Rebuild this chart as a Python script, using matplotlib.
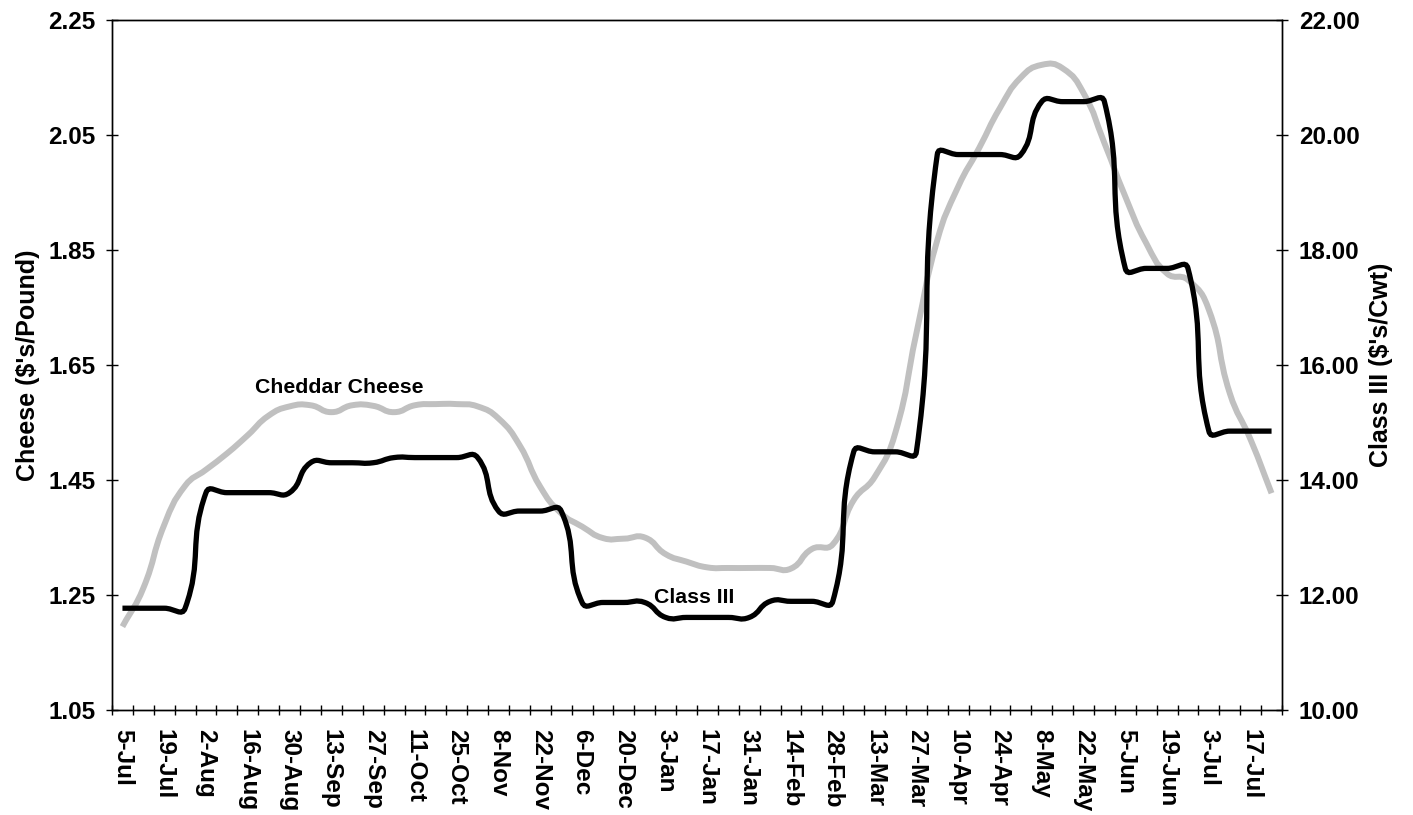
import numpy as np
import matplotlib.pyplot as plt
from matplotlib.path import Path
from matplotlib.patches import PathPatch
from matplotlib.ticker import FormatStrFormatter

plt.rcParams['font.family'] = ['Liberation Sans', 'DejaVu Sans']
plt.rcParams['font.weight'] = 'bold'

# weekly categories
weeks = ["5-Jul", "12-Jul", "19-Jul", "26-Jul", "2-Aug", "9-Aug", "16-Aug", "23-Aug",
         "30-Aug", "6-Sep", "13-Sep", "20-Sep", "27-Sep", "4-Oct", "11-Oct", "18-Oct",
         "25-Oct", "1-Nov", "8-Nov", "15-Nov", "22-Nov", "29-Nov", "6-Dec", "13-Dec",
         "20-Dec", "27-Dec", "3-Jan", "10-Jan", "17-Jan", "24-Jan", "31-Jan", "7-Feb",
         "14-Feb", "21-Feb", "28-Feb", "6-Mar", "13-Mar", "20-Mar", "27-Mar", "3-Apr",
         "10-Apr", "17-Apr", "24-Apr", "1-May", "8-May", "15-May", "22-May", "29-May",
         "5-Jun", "12-Jun", "19-Jun", "26-Jun", "3-Jul", "10-Jul", "17-Jul", "24-Jul"]

# cheddar cheese, $/lb (left axis)
cheddar = [1.195, 1.262, 1.372, 1.440, 1.468, 1.496, 1.528, 1.562,
           1.578, 1.580, 1.568, 1.580, 1.579, 1.568, 1.580, 1.582,
           1.582, 1.578, 1.557, 1.511, 1.438, 1.392, 1.369, 1.349,
           1.348, 1.350, 1.321, 1.308, 1.298, 1.297, 1.297, 1.297,
           1.296, 1.330, 1.338, 1.415, 1.455, 1.533, 1.705, 1.867,
           1.960, 2.027, 2.097, 2.150, 2.172, 2.166, 2.123, 2.036,
           1.943, 1.862, 1.809, 1.798, 1.746, 1.601, 1.520, 1.427]

# class III, $/cwt (right axis)
class3 = [11.77, 11.77, 11.77, 11.77, 13.78, 13.78, 13.78, 13.78,
          13.78, 14.30, 14.30, 14.30, 14.30, 14.39, 14.39, 14.39,
          14.39, 14.39, 13.46, 13.46, 13.46, 13.46, 11.87, 11.87,
          11.87, 11.87, 11.61, 11.61, 11.61, 11.61, 11.61, 11.89,
          11.89, 11.89, 11.89, 14.49, 14.49, 14.49, 14.49, 19.66,
          19.66, 19.66, 19.66, 19.66, 20.58, 20.58, 20.58, 20.58,
          17.68, 17.68, 17.68, 17.68, 14.85, 14.85, 14.85, 14.85]

leftTicks = [1.05, 1.25, 1.45, 1.65, 1.85, 2.05, 2.25]
rightTicks = [10, 12, 14, 16, 18, 20, 22]


def smoothPath(axis, xs, ys, tension=0.5):
    """Bezier path through the points, built like Excel's smoothed line."""
    pts = axis.transData.transform(np.column_stack([xs, ys]))
    n = len(pts)
    verts = [pts[0]]
    codes = [Path.MOVETO]
    for k in range(n - 1):
        p0 = pts[max(k - 1, 0)]
        p1 = pts[k]
        p2 = pts[k + 1]
        p3 = pts[min(k + 2, n - 1)]
        d01 = np.hypot(*(p1 - p0))
        d12 = np.hypot(*(p2 - p1))
        d23 = np.hypot(*(p3 - p2))
        c1 = p1 + tension * d12 / (d01 + d12) * (p2 - p0)
        c2 = p2 - tension * d12 / (d12 + d23) * (p3 - p1)
        verts += [c1, c2, p2]
        codes += [Path.CURVE4] * 3
    verts = axis.transData.inverted().transform(np.array(verts))
    return Path(verts, codes)


fig = plt.figure(figsize=(14.13, 8.15), dpi=100)
ax = fig.add_axes([112 / 1413, 105 / 815, 1170 / 1413, 690 / 815])
ax2 = ax.twinx()

x = np.arange(len(weeks))
ax.set_xlim(-0.5, len(weeks) - 0.5)
ax.set_ylim(leftTicks[0], leftTicks[-1])
ax2.set_ylim(rightTicks[0], rightTicks[-1])

ax.add_patch(PathPatch(smoothPath(ax, x, cheddar), fill=False,
                       edgecolor="#c0c0c0", linewidth=4.3, capstyle="butt"))
ax2.add_patch(PathPatch(smoothPath(ax2, x, class3), fill=False,
                        edgecolor="black", linewidth=3.8, capstyle="butt"))

# x axis: labels on every other week, ticks between categories
ax.set_xticks(x[::2])
ax.set_xticklabels(weeks[::2], rotation=270, fontsize=17.5, fontweight="bold")
ax.set_xticks(np.arange(-0.5, len(weeks), 1), minor=True)
ax.tick_params(axis="x", which="major", length=0, pad=14)
ax.tick_params(axis="x", which="minor", direction="inout", length=7, width=1)

ax.set_yticks(leftTicks)
ax.yaxis.set_major_formatter(FormatStrFormatter("%.2f"))
ax.tick_params(axis="y", direction="inout", length=8, width=1, pad=8, labelsize=17.5)
ax2.set_yticks(rightTicks)
ax2.yaxis.set_major_formatter(FormatStrFormatter("%.2f"))
ax2.tick_params(axis="y", direction="inout", length=8, width=1, pad=8, labelsize=17.5)

ax.set_ylabel("Cheese ($'s/Pound)", fontsize=18, fontweight="bold", labelpad=6)
ax2.set_ylabel("Class III ($'s/Cwt)", fontsize=18, fontweight="bold", labelpad=7)

for a in (ax, ax2):
    for s in a.spines.values():
        s.set_linewidth(1.0)

ax.text(10.385, 1.602, "Cheddar Cheese", ha="center", va="baseline",
        fontsize=15.3, fontweight="bold")
ax2.text(27.36, 11.856, "Class III", ha="center", va="baseline",
         fontsize=15.3, fontweight="bold")

fig.savefig("out.png", dpi=100)
